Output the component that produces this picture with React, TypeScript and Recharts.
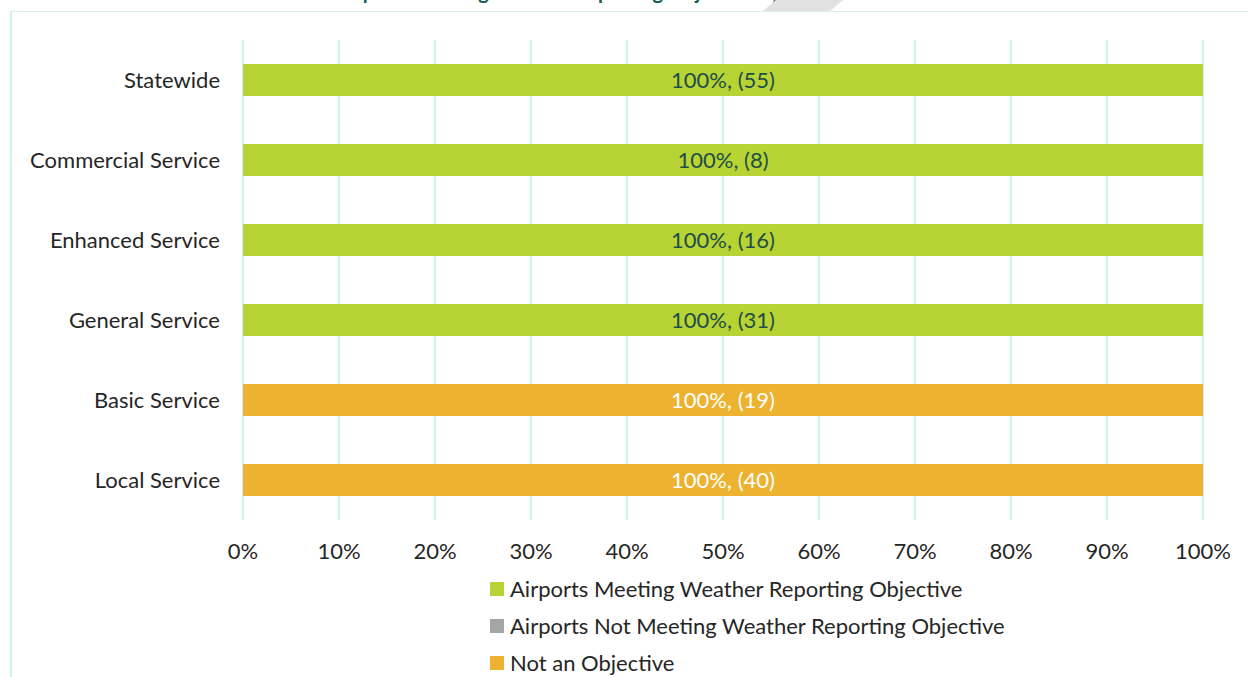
import React from 'react';
import { BarChart, Bar, XAxis, YAxis, CartesianGrid, LabelList } from 'recharts';

const categories = ['Statewide', 'Commercial Service', 'Enhanced Service', 'General Service', 'Basic Service', 'Local Service'];
const meetingPct = [1, 1, 1, 1, 0, 0];
const notMeetingPct = [0, 0, 0, 0, 0, 0];
const notObjectivePct = [0, 0, 0, 0, 1, 1];
const meetingCount = [55, 8, 16, 31, 0, 0];
const notMeetingCount = [0, 0, 0, 0, 0, 0];
const notObjectiveCount = [0, 0, 0, 0, 19, 40];
const xTicks = [0, 0.1, 0.2, 0.3, 0.4, 0.5, 0.6, 0.7, 0.8, 0.9, 1];
const seriesNames = [
  'Airports Meeting Weather Reporting Objective',
  'Airports Not Meeting Weather Reporting Objective',
  'Not an Objective',
];
const seriesColors = ['#b8d334', '#a5a5a5', '#edb230'];
const labelColors = ['#1e4d47', '#ffffff', '#ffffff'];
const titleText = 'Airports Meeting Weather Reporting Objective by Classification';

const FONT = 'Lato, "Open Sans", sans-serif';
const FS = 22;

const lbl = (p: number, c: number) => (p > 0 ? `${Math.round(p * 100)}%, (${c})` : '');

const data = categories.map((name, i) => ({
  name,
  meeting: meetingPct[i],
  notMeeting: notMeetingPct[i],
  notObjective: notObjectivePct[i],
  meetingLabel: lbl(meetingPct[i], meetingCount[i]),
  notMeetingLabel: lbl(notMeetingPct[i], notMeetingCount[i]),
  notObjectiveLabel: lbl(notObjectivePct[i], notObjectiveCount[i]),
}));

const keys = ['meeting', 'notMeeting', 'notObjective'];

export default function App() {
  return (
    <div style={{ position: 'fixed', left: 0, top: 0, width: 1248, height: 677, overflow: 'hidden', background: '#fff', fontFamily: FONT }}>
      <div style={{ position: 'absolute', left: 620, top: -21, transform: 'translateX(-50%)', whiteSpace: 'nowrap', fontWeight: 700, fontSize: 20, color: '#0f5c50', lineHeight: '24px' }}>
        {titleText}
      </div>
      <div style={{ position: 'absolute', left: 763, top: 0, width: 80, height: 11, background: '#e2e2e2', clipPath: 'polygon(16% 0, 100% 0, 84% 100%, 0 100%)' }} />
      <div style={{ position: 'absolute', left: 10, top: 11, width: 1400, height: 800, borderLeft: '2px solid #cdf3ea', borderTop: '1.5px solid #cdf3ea' }} />
      <div style={{ position: 'absolute', left: 0, top: 0 }}>
        <BarChart
          width={1248}
          height={677}
          data={data}
          layout="vertical"
          margin={{ top: 40, right: 45, bottom: 117, left: 0 }}
          barSize={32}
        >
          <CartesianGrid vertical horizontal={false} stroke="#cdf3ee" strokeWidth={2} />
          <XAxis
            type="number"
            domain={[0, 1]}
            ticks={xTicks}
            tickFormatter={(v: number) => `${Math.round(v * 100)}%`}
            axisLine={false}
            tickLine={false}
            tickSize={0}
            tickMargin={23}
            height={40}
            tick={{ fill: '#262626', fontSize: FS, fontFamily: FONT }}
            interval={0}
          />
          <YAxis
            type="category"
            dataKey="name"
            width={243}
            axisLine={false}
            tickLine={false}
            tickSize={0}
            tickMargin={23}
            tick={{ fill: '#262626', fontSize: FS, fontFamily: FONT }}
            interval={0}
          />
          {keys.map((k, i) => (
            <Bar key={k} dataKey={k} stackId="a" fill={seriesColors[i]} isAnimationActive={false} name={seriesNames[i]}>
              <LabelList dataKey={`${k}Label`} position="center" fill={labelColors[i]} fontSize={FS} fontFamily={FONT} />
            </Bar>
          ))}
        </BarChart>
      </div>
      {seriesNames.map((n, i) => (
        <div key={n} style={{ position: 'absolute', left: 490, top: 589 + i * 37 - 13, height: 26, display: 'flex', alignItems: 'center', whiteSpace: 'nowrap' }}>
          <div style={{ width: 14, height: 14, background: seriesColors[i], marginRight: 6 }} />
          <span style={{ fontSize: FS, color: '#262626', fontFamily: FONT, lineHeight: '26px' }}>{n}</span>
        </div>
      ))}
    </div>
  );
}
